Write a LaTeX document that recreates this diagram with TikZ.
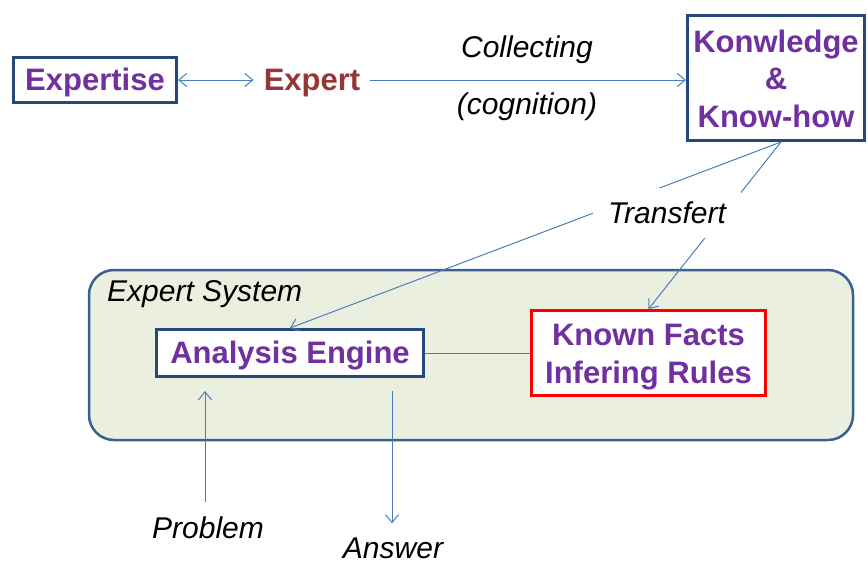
\documentclass[tikz,border=0pt]{standalone}
\usepackage{fontspec}
\setmainfont{Liberation Sans}
\usetikzlibrary{arrows.meta}
\definecolor{bord}{HTML}{24497A}
\definecolor{purp}{HTML}{7030A0}
\definecolor{exred}{HTML}{953735}
\definecolor{connc}{HTML}{4A7EBB}
\definecolor{sysfill}{HTML}{EBEFDF}
\definecolor{sysbord}{HTML}{3B6090}
\newcommand{\dnshift}[2]{\raisebox{-#1}[\height][\depth]{\begin{tabular}{@{}c@{}}#2\end{tabular}}}
\begin{document}
\begin{tikzpicture}[x=1pt,y=-1pt,
  box/.style={draw=bord, line width=3pt, fill=white, inner sep=0pt,
    font=\fontsize{31}{37.5}\selectfont\bfseries, text=purp, align=center},
  lab/.style={font=\fontsize{30}{36}\selectfont\itshape, inner sep=2pt},
  conn/.style={draw=connc, line width=1pt},
  arr/.style={conn, -{Straight Barb[length=8pt,width=13pt]}},
  darr/.style={conn, {Straight Barb[length=8pt,width=13pt]}-{Straight Barb[length=8pt,width=13pt]}}
]
\useasboundingbox (0,0) rectangle (868,560);

% Expert system container
\node[draw=sysbord, fill=sysfill, line width=2.5pt, rounded corners=25pt,
  minimum width=764, minimum height=170, inner sep=0pt] (es) at (471,355) {};
\node[lab, anchor=west] (esl) at (105,294) {Expert System};

% top row
\node[box, minimum width=163, minimum height=45] (ex) at (95,80) {\dnshift{3pt}{Expertise}};
\node[font=\fontsize{31}{37.5}\selectfont\bfseries, text=exred, inner sep=10pt] (expert) at (312,80) {\dnshift{3pt}{Expert}};
\node[box, minimum width=177, minimum height=125] (kn) at (776,78) {\dnshift{4pt}{Konwledge\\\&\\Know-how}};
\node[lab] (col) at (527,50) {Collecting};
\node[lab] (cog) at (527,107) {(cognition)};

% system boxes
\node[box, minimum width=267, minimum height=47] (ae) at (290,353) {\dnshift{3pt}{Analysis Engine}};
\node[box, draw=red, minimum width=234, minimum height=85] (kf) at (648.5,353) {\dnshift{4pt}{Known Facts\\Infering Rules}};

% connectors
\draw[darr] (ex.east) -- (expert.west);
\draw[arr] (expert.east) -- (expert.east -| kn.west);
\coordinate (ksrc) at ([xshift=5pt]kn.south);
\draw[arr] (ksrc) -- (ae.north);
\draw[arr] (ksrc) -- (kf.north);
\draw[conn] (ae.east) -- (kf.west);

% Transfert label on top of the lines
\node[lab, fill=white, minimum width=148, minimum height=50] (tr) at (667,213) {Transfert};

% problem / answer
\node[lab] (prob) at (208,528) {Problem};
\node[lab] (ans) at (393,548) {Answer};
\coordinate (pin) at ([xshift=-85pt,yshift=-13pt]ae.south);
\coordinate (aout) at ([xshift=102pt,yshift=-13pt]ae.south);
\draw[arr] ([yshift=13pt]prob.north -| pin) -- (pin);
\draw[arr] (aout) -- ([yshift=12pt]ans.north -| aout);
\end{tikzpicture}
\end{document}
